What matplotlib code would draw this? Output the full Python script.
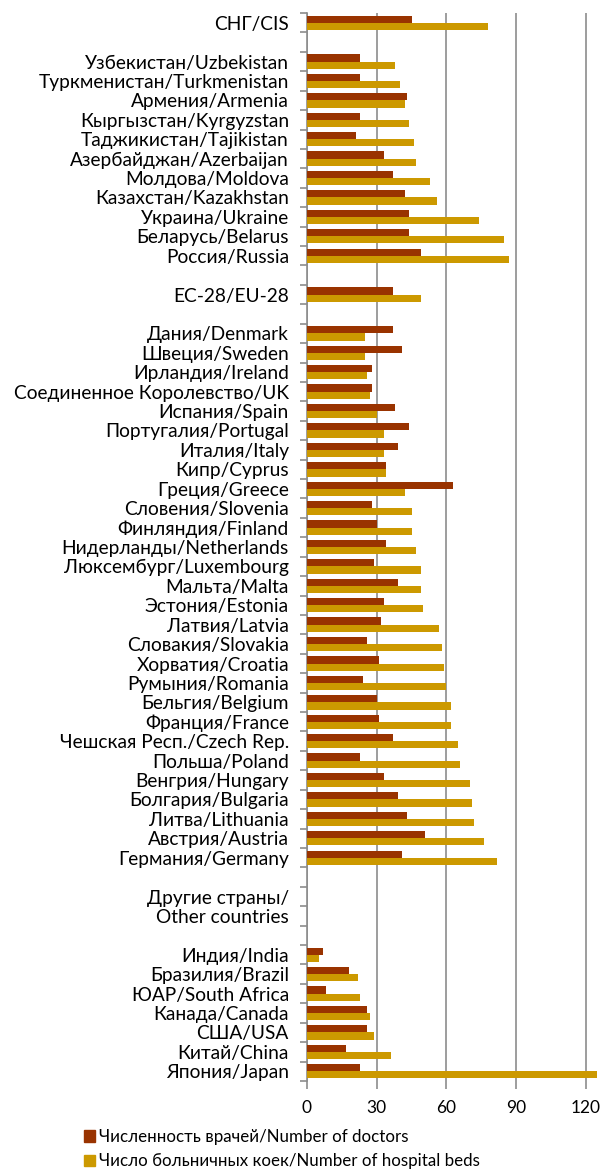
import numpy as np
import matplotlib
matplotlib.use('Agg')
import matplotlib.pyplot as plt
import matplotlib.patches as mpatches

plt.rcParams['font.family'] = ['Lato', 'DejaVu Sans']

# категории сверху вниз, пустые строки - промежутки между группами
labels = ['СНГ/CIS', '',
          'Узбекистан/Uzbekistan', 'Туркменистан/Turkmenistan', 'Армения/Armenia',
          'Кыргызстан/Kyrgyzstan', 'Таджикистан/Tajikistan', 'Азербайджан/Azerbaijan',
          'Молдова/Moldova', 'Казахстан/Kazakhstan', 'Украина/Ukraine',
          'Беларусь/Belarus', 'Россия/Russia', '',
          'ЕС-28/EU-28', '',
          'Дания/Denmark', 'Швеция/Sweden', 'Ирландия/Ireland',
          'Соединенное Королевство/UK', 'Испания/Spain', 'Португалия/Portugal',
          'Италия/Italy', 'Кипр/Cyprus', 'Греция/Greece', 'Словения/Slovenia',
          'Финляндия/Finland', 'Нидерланды/Netherlands', 'Люксембург/Luxembourg',
          'Мальта/Malta', 'Эстония/Estonia', 'Латвия/Latvia', 'Словакия/Slovakia',
          'Хорватия/Croatia', 'Румыния/Romania', 'Бельгия/Belgium', 'Франция/France',
          'Чешская Респ./Czech Rep.', 'Польша/Poland', 'Венгрия/Hungary',
          'Болгария/Bulgaria', 'Литва/Lithuania', 'Австрия/Austria', 'Германия/Germany',
          '', 'Другие страны/', 'Other countries', '',
          'Индия/India', 'Бразилия/Brazil', 'ЮАР/South Africa', 'Канада/Canada',
          'США/USA', 'Китай/China', 'Япония/Japan']

doctors = [45, None,
           23, 23, 43, 23, 21, 33, 37, 42, 44, 44, 49, None,
           37, None,
           37, 41, 28, 28, 38, 44, 39, 34, 63, 28, 30, 34, 29, 39, 33,
           32, 26, 31, 24, 30, 31, 37, 23, 33, 39, 43, 51, 41,
           None, None, None, None,
           7, 18, 8, 26, 26, 17, 23]

beds = [78, None,
        38, 40, 42, 44, 46, 47, 53, 56, 74, 85, 87, None,
        49, None,
        25, 25, 26, 27, 30, 33, 33, 34, 42, 45, 45, 47, 49, 49, 50,
        57, 58, 59, 60, 62, 62, 65, 66, 70, 71, 72, 76, 82,
        None, None, None, None,
        5, 22, 23, 27, 29, 36, 125]

doctors = np.array(doctors, dtype=float)
beds = np.array(beds, dtype=float)
y = np.arange(len(labels))

c_doc = '#993300'
c_bed = '#CC9900'
grid_c = '#8c8c8c'

fig = plt.figure(figsize=(6.04, 11.71), dpi=100)
ax = fig.add_axes([307/604, 1 - 1081/1171, 295/604, 1068/1171])

h = 0.37
ax.barh(y - h/2, doctors, height=h, color=c_doc, zorder=3)
ax.barh(y + h/2, beds, height=h, color=c_bed, zorder=3)

ax.set_ylim(len(labels) - 0.5, -0.5)
ax.set_xlim(0, 127)
ax.set_xticks([0, 30, 60, 90, 120])
ax.xaxis.grid(True, color=grid_c, lw=1.2, zorder=0)
ax.tick_params(axis='x', length=6, width=1.2, color=grid_c, labelsize=12.5, pad=8)

ax.set_yticks(y)
ax.set_yticklabels(labels, fontsize=13.8)
ax.set_yticks(np.arange(-0.5, len(labels)), minor=True)
ax.tick_params(axis='y', which='major', length=0, pad=13)
ax.tick_params(axis='y', which='minor', length=5, width=1.2, color=grid_c)

for s in ['top', 'right', 'bottom']:
    ax.spines[s].set_visible(False)
ax.spines['left'].set_color(grid_c)
ax.spines['left'].set_linewidth(1.2)

handles = [mpatches.Patch(color=c_doc), mpatches.Patch(color=c_bed)]
fig.legend(handles, ['Численность врачей/Number of doctors',
                     'Число больничных коек/Number of hospital beds'],
           loc='upper left', bbox_to_anchor=(84/604, 1 - 1129/1171),
           frameon=False, fontsize=12.2, handlelength=0.65, handleheight=0.65,
           handletextpad=0.25, labelspacing=0.5, borderpad=0, borderaxespad=0)

fig.savefig('out.png', dpi=100)
